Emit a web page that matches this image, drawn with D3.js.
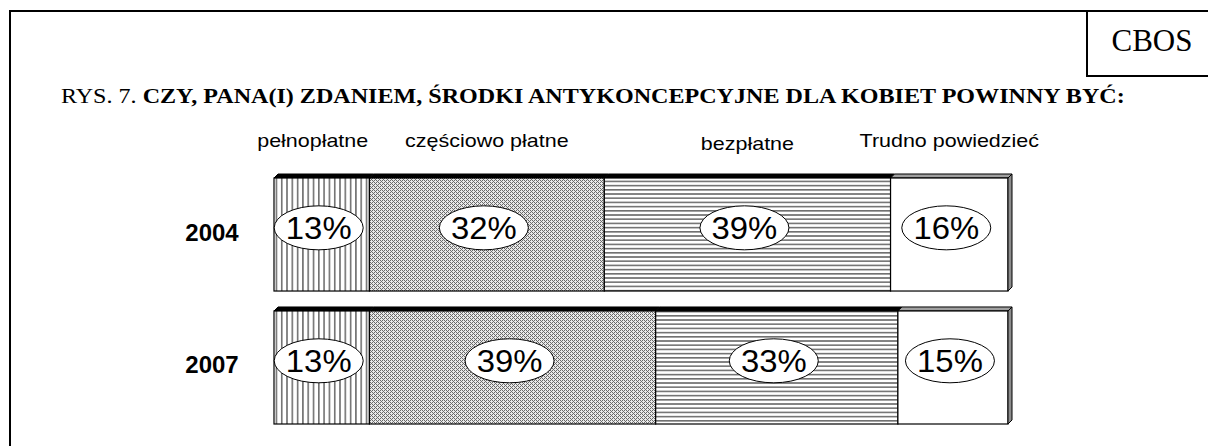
<!DOCTYPE html>
<html>
<head>
<meta charset="utf-8">
<script src="https://cdn.jsdelivr.net/npm/d3@7"></script>
<style>
  html, body { margin: 0; padding: 0; background: #fff; }
  svg { display: block; }
</style>
</head>
<body>
<svg id="chart" width="1208" height="446"></svg>
<script>
// data
const years = ['2004', '2007'];
const categories = ['pełnopłatne', 'częściowo płatne', 'bezpłatne', 'Trudno powiedzieć'];
const values2004 = [13, 32, 39, 16];
const values2007 = [13, 39, 33, 15];
const rows = [values2004, values2007];

const depth = 4;

const svg = d3.select('#chart');
const defs = svg.append('defs');

// the original glyphs are a bit wider than ours, so stretch text horizontally
function stretch(sel, k) {
  sel.each(function() {
    const w = this.getComputedTextLength();
    d3.select(this).attr('textLength', w * k).attr('lengthAdjust', 'spacingAndGlyphs');
  });
}

// fill patterns (one per category)
const pVert = defs.append('pattern').attr('id', 'p0')
  .attr('patternUnits', 'userSpaceOnUse').attr('width', 5.3).attr('height', 10);
pVert.append('rect').attr('width', 5.3).attr('height', 10).attr('fill', '#fff');
pVert.append('rect').attr('x', 0).attr('width', 1.6).attr('height', 10).attr('fill', '#707070');

const pCheck = defs.append('pattern').attr('id', 'p1')
  .attr('patternUnits', 'userSpaceOnUse').attr('width', 4).attr('height', 4);
pCheck.append('rect').attr('width', 4).attr('height', 4).attr('fill', '#e8e8e8');
[[0, 0], [2, 0], [1, 1], [2, 2], [0, 2], [3, 3]].forEach(([px, py]) => {
  pCheck.append('rect').attr('x', px).attr('y', py).attr('width', 1).attr('height', 1)
    .attr('fill', '#6a6a6a');
});

const pHoriz = defs.append('pattern').attr('id', 'p2')
  .attr('patternUnits', 'userSpaceOnUse').attr('width', 10).attr('height', 4.2);
pHoriz.append('rect').attr('width', 10).attr('height', 4.2).attr('fill', '#fff');
pHoriz.append('rect').attr('y', 0).attr('width', 10).attr('height', 1.6).attr('fill', '#707070');

const fills = ['url(#p0)', 'url(#p1)', 'url(#p2)', '#fff'];
const topFills = ['#000', '#000', '#000', '#a0a0a0'];

// scales
const x = d3.scaleLinear().domain([0, 100]).range([274, 1008]);
const y = d3.scaleBand().domain(years).range([174, 424]).paddingInner(0.12).paddingOuter(0);
const bw = y.bandwidth();

// frame + CBOS box
svg.append('rect')
  .attr('x', 10).attr('y', 11).attr('width', 1220).attr('height', 460)
  .attr('fill', 'none').attr('stroke', '#000').attr('stroke-width', 2);
svg.append('path')
  .attr('d', 'M1087,11 V76 H1215')
  .attr('fill', 'none').attr('stroke', '#000').attr('stroke-width', 2);
svg.append('text')
  .attr('x', 1152).attr('y', 51)
  .attr('text-anchor', 'middle')
  .attr('font-family', '"Liberation Serif", "Times New Roman", serif')
  .attr('font-size', 31)
  .text('CBOS');

// title, stretched to the original width
const titleG = svg.append('g');
const title = titleG.append('text')
  .attr('x', 0).attr('y', 103)
  .attr('font-family', '"Liberation Serif", "Times New Roman", serif')
  .attr('font-size', 20.5);
title.append('tspan').text('RYS. 7. ');
title.append('tspan').attr('font-weight', 'bold')
  .text('CZY, PANA(I) ZDANIEM, ŚRODKI ANTYKONCEPCYJNE DLA KOBIET POWINNY BYĆ:');
const tw = title.node().getBBox().width;
titleG.attr('transform', `translate(61,0) scale(${1064 / tw},1)`);

// stacked segments
const stacked = rows.map((vals, i) => {
  let acc = 0;
  return vals.map((v, j) => {
    const seg = { year: years[i], cat: j, value: v, x0: acc, x1: acc + v };
    acc += v;
    return seg;
  });
});

// legend labels over the 2004 segments
svg.append('g').selectAll('text')
  .data(stacked[0])
  .join('text')
    .attr('x', d => (x(d.x0) + x(d.x1)) / 2 - (d.cat === 0 ? 9 : 0))
    .attr('y', d => d.cat === 2 ? 150 : 147)
    .attr('text-anchor', 'middle')
    .attr('font-family', 'Arial, "Liberation Sans", sans-serif')
    .attr('font-size', 19)
    .text(d => categories[d.cat])
    .call(stretch, 1.13);

// year labels
svg.append('g').selectAll('text')
  .data(years)
  .join('text')
    .attr('x', 212)
    .attr('y', d => y(d) + bw / 2 + 8)
    .attr('text-anchor', 'middle')
    .attr('font-family', 'Arial, "Liberation Sans", sans-serif')
    .attr('font-weight', 'bold')
    .attr('font-size', 24)
    .text(d => d);

const bars = svg.append('g').selectAll('g')
  .data(stacked)
  .join('g');

// top faces
bars.selectAll('path.top')
  .data(d => d)
  .join('path')
    .attr('class', 'top')
    .attr('d', d => {
      const y0 = y(d.year), a = x(d.x0), b = x(d.x1);
      return `M${a},${y0 + depth} L${a + depth},${y0} L${b + depth},${y0} L${b},${y0 + depth} Z`;
    })
    .attr('fill', d => topFills[d.cat])
    .attr('stroke', '#000').attr('stroke-width', 1);

// front faces
bars.selectAll('rect')
  .data(d => d)
  .join('rect')
    .attr('x', d => x(d.x0))
    .attr('y', d => y(d.year) + depth)
    .attr('width', d => x(d.x1) - x(d.x0))
    .attr('height', bw - depth)
    .attr('fill', d => fills[d.cat])
    .attr('stroke', '#000').attr('stroke-width', 1.2);

// side face at the right end
bars.append('path')
  .attr('d', d => {
    const y0 = y(d[0].year), b = x(d[d.length - 1].x1);
    return `M${b},${y0 + depth} L${b + depth},${y0} L${b + depth},${y0 + bw - depth} L${b},${y0 + bw} Z`;
  })
  .attr('fill', '#8c8c8c')
  .attr('stroke', '#000').attr('stroke-width', 1);

// value labels in ellipses
const labels = bars.selectAll('g.lbl')
  .data(d => d)
  .join('g')
    .attr('class', 'lbl')
    .attr('transform', d => `translate(${(x(d.x0) + x(d.x1)) / 2 - 3},${y(d.year) + bw * 0.46})`);

labels.append('ellipse')
  .attr('rx', 44.5).attr('ry', 22)
  .attr('fill', '#fff')
  .attr('stroke', '#000').attr('stroke-width', 1);

labels.append('text')
  .attr('text-anchor', 'middle')
  .attr('dy', '0.35em')
  .attr('font-family', 'Arial, "Liberation Sans", sans-serif')
  .attr('font-size', 31)
  .text(d => d.value + '%')
  .call(stretch, 1.06);
</script>
</body>
</html>
